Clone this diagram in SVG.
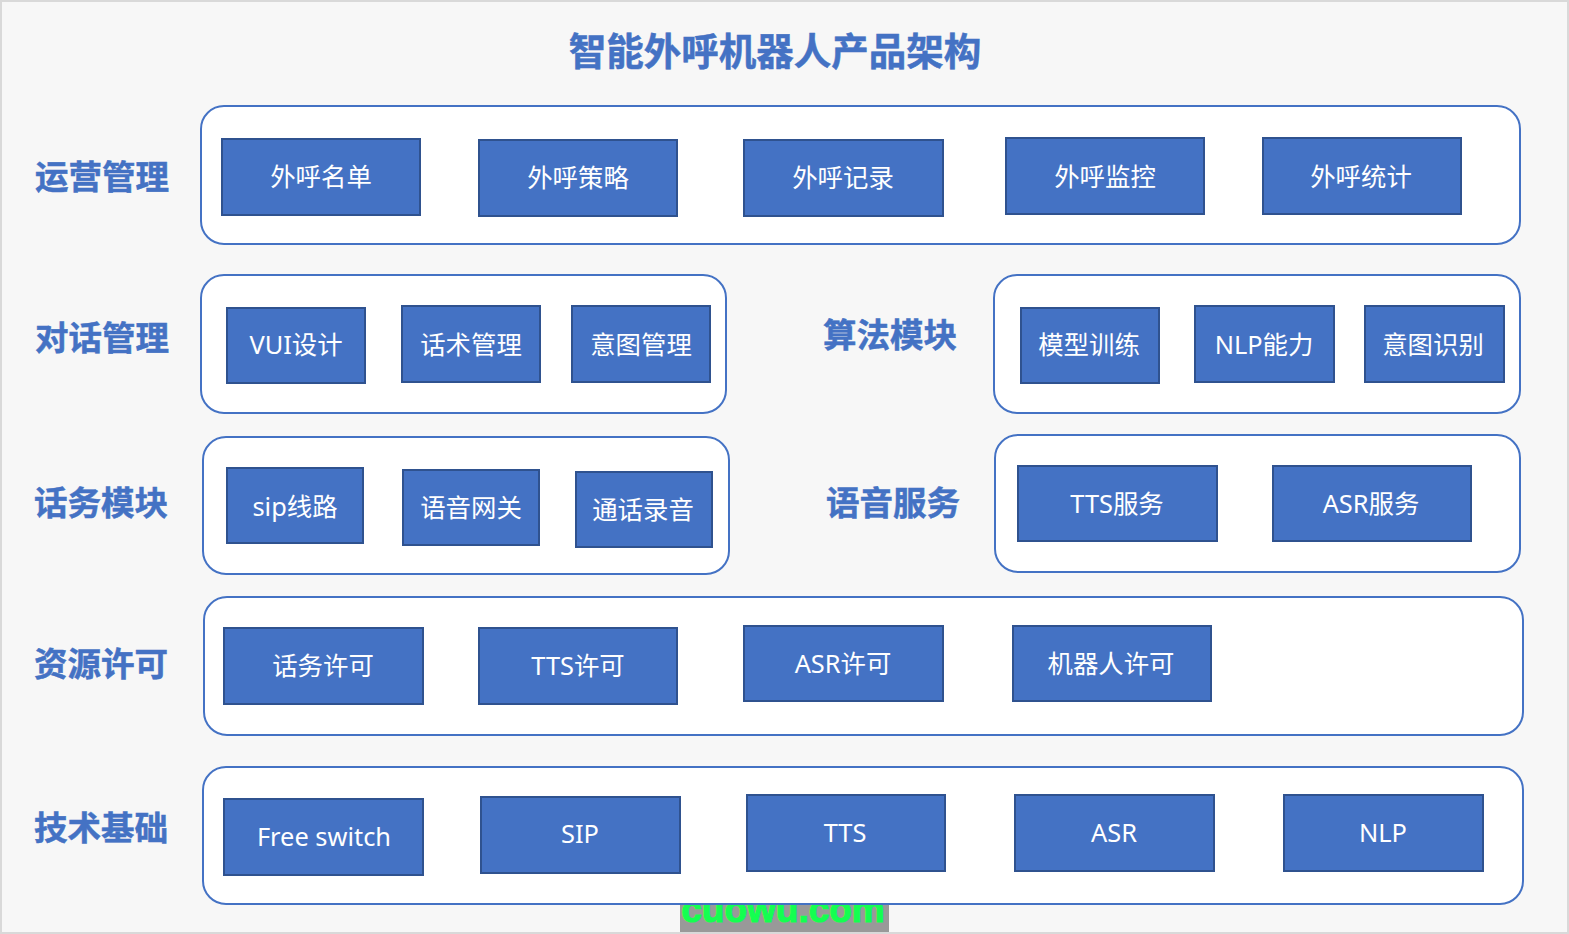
<svg xmlns="http://www.w3.org/2000/svg" width="1569" height="934" viewBox="0 0 1569 934">
<style>
text{font-family:"Noto Sans","Noto Sans CJK SC",sans-serif;text-anchor:middle}
.p{fill:#fff;stroke:#4472c4;stroke-width:2}
.b{fill:#4472c4;stroke:#2f528f;stroke-width:2}
.t{fill:#fff;font-size:25.4px}
.h{fill:#4472c4;stroke:#4472c4;stroke-width:.5;font-size:33.5px;font-weight:700}
.w{font-family:"Liberation Sans",Arial,sans-serif;font-weight:700;font-size:37px;fill:#14ff50;stroke:#14ff50;stroke-width:1.2}
</style>
<rect x="1" y="1" width="1567" height="932" fill="#f7f7f7" stroke="#d9d9d9" stroke-width="2"/>
<text x="775" y="65" fill="#4472c4" stroke="#4472c4" stroke-width=".5" font-size="37.5" font-weight="700">智能外呼机器人产品架构</text>
<g id="watermark"><rect x="680" y="904" width="209" height="28" fill="#999"/><text class="w" x="783" y="922">cuowu.com</text></g>
<g id="labels">
<text class="h" x="102" y="189">运营管理</text>
<text class="h" x="102" y="350">对话管理</text>
<text class="h" x="890" y="347">算法模块</text>
<text class="h" x="101" y="515">话务模块</text>
<text class="h" x="893" y="515">语音服务</text>
<text class="h" x="101" y="676">资源许可</text>
<text class="h" x="101" y="840">技术基础</text>
</g>
<g id="panels">
<rect class="p" x="201" y="106" width="1319" height="138" rx="23"/>
<rect class="p" x="201" y="275" width="525" height="138" rx="23"/>
<rect class="p" x="994" y="275" width="526" height="138" rx="23"/>
<rect class="p" x="203" y="437" width="526" height="137" rx="23"/>
<rect class="p" x="995" y="435" width="525" height="137" rx="23"/>
<rect class="p" x="204" y="597" width="1319" height="138" rx="23"/>
<rect class="p" x="203" y="767" width="1320" height="137" rx="23"/>
</g>
<g id="n1"><rect class="b" x="222" y="139" width="198" height="76"/><text class="t" x="321" y="186">外呼名单</text></g>
<g id="n2"><rect class="b" x="479" y="140" width="198" height="76"/><text class="t" x="578" y="187">外呼策略</text></g>
<g id="n3"><rect class="b" x="744" y="140" width="199" height="76"/><text class="t" x="843" y="187">外呼记录</text></g>
<g id="n4"><rect class="b" x="1006" y="138" width="198" height="76"/><text class="t" x="1105" y="186">外呼监控</text></g>
<g id="n5"><rect class="b" x="1263" y="138" width="198" height="76"/><text class="t" x="1361" y="186">外呼统计</text></g>
<g id="n6"><rect class="b" x="227" y="308" width="138" height="75"/><text class="t" x="296" y="354">VUI设计</text></g>
<g id="n7"><rect class="b" x="402" y="306" width="138" height="76"/><text class="t" x="471" y="354">话术管理</text></g>
<g id="n8"><rect class="b" x="572" y="306" width="138" height="76"/><text class="t" x="641" y="354">意图管理</text></g>
<g id="n9"><rect class="b" x="1021" y="308" width="138" height="75"/><text class="t" x="1089" y="354">模型训练</text></g>
<g id="n10"><rect class="b" x="1195" y="306" width="139" height="76"/><text class="t" x="1264" y="354">NLP能力</text></g>
<g id="n11"><rect class="b" x="1365" y="306" width="139" height="76"/><text class="t" x="1433" y="354">意图识别</text></g>
<g id="n12"><rect class="b" x="227" y="468" width="136" height="75"/><text class="t" x="295" y="516">sip线路</text></g>
<g id="n13"><rect class="b" x="403" y="470" width="136" height="75"/><text class="t" x="471" y="517">语音网关</text></g>
<g id="n14"><rect class="b" x="576" y="472" width="136" height="75"/><text class="t" x="643" y="519">通话录音</text></g>
<g id="n15"><rect class="b" x="1018" y="466" width="199" height="75"/><text class="t" x="1117" y="513">TTS服务</text></g>
<g id="n16"><rect class="b" x="1273" y="466" width="198" height="75"/><text class="t" x="1371" y="513">ASR服务</text></g>
<g id="n17"><rect class="b" x="224" y="628" width="199" height="76"/><text class="t" x="323" y="675">话务许可</text></g>
<g id="n18"><rect class="b" x="479" y="628" width="198" height="76"/><text class="t" x="578" y="675">TTS许可</text></g>
<g id="n19"><rect class="b" x="744" y="626" width="199" height="75"/><text class="t" x="843" y="673">ASR许可</text></g>
<g id="n20"><rect class="b" x="1013" y="626" width="198" height="75"/><text class="t" x="1111" y="673">机器人许可</text></g>
<g id="n21"><rect class="b" x="224" y="799" width="199" height="76"/><text class="t" x="324" y="846">Free switch</text></g>
<g id="n22"><rect class="b" x="481" y="797" width="199" height="76"/><text class="t" x="580" y="843">SIP</text></g>
<g id="n23"><rect class="b" x="747" y="795" width="198" height="76"/><text class="t" x="845" y="842">TTS</text></g>
<g id="n24"><rect class="b" x="1015" y="795" width="199" height="76"/><text class="t" x="1114" y="842">ASR</text></g>
<g id="n25"><rect class="b" x="1284" y="795" width="199" height="76"/><text class="t" x="1383" y="842">NLP</text></g>
<g id="connectors"/>
</svg>
